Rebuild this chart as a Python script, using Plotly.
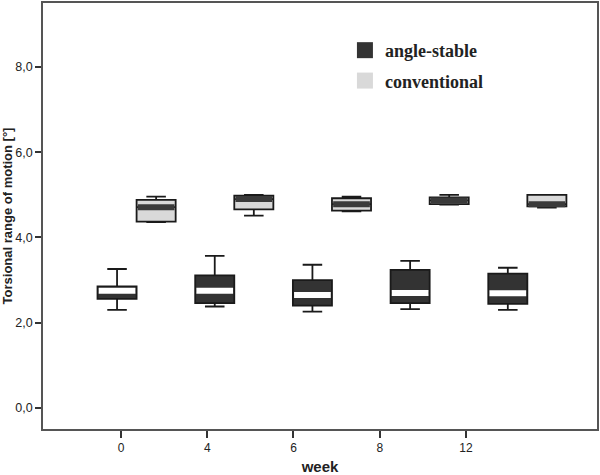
import plotly.graph_objects as go

weeks = ["0", "4", "6", "8", "12"]

# angle-stable
as_low = [2.30, 2.38, 2.26, 2.32, 2.30]
as_q1 = [2.56, 2.46, 2.40, 2.46, 2.44]
as_med = [2.75, 2.75, 2.65, 2.70, 2.69]
as_q3 = [2.85, 3.11, 3.00, 3.24, 3.15]
as_up = [3.26, 3.57, 3.36, 3.45, 3.29]

# conventional
cv_low = [4.36, 4.51, 4.61, 4.77, 4.70]
cv_q1 = [4.37, 4.66, 4.63, 4.78, 4.73]
cv_med = [4.71, 4.90, 4.78, 4.87, 4.78]
cv_q3 = [4.88, 4.98, 4.92, 4.94, 5.00]
cv_up = [4.96, 5.00, 4.96, 5.00, 5.00]

DARK = "#333333"
LIGHT = "#d9d9d9"
LINE = "#1a1a1a"
BW = 0.4  # box width (group units)
OFF = 0.2

idx = list(range(len(weeks)))
fig = go.Figure()

series = [
    ("angle-stable", -OFF, as_low, as_q1, as_med, as_q3, as_up, DARK, "white"),
    ("conventional", OFF, cv_low, cv_q1, cv_med, cv_q3, cv_up, LIGHT, "#3a3a3a"),
]

for name, off, lo, q1, med, q3, up, fill, medc in series:
    xs = [i + off for i in idx]
    fig.add_trace(go.Box(
        x=xs, lowerfence=lo, q1=q1, median=med, q3=q3, upperfence=up,
        width=BW, whiskerwidth=0.5, fillcolor=fill,
        line=dict(color=LINE, width=1.8), showlegend=False,
        xaxis="x2", yaxis="y", hoverinfo="skip",
    ))
    # thick median band
    mx, my = [], []
    for x, m in zip(xs, med):
        mx += [x - BW / 2 + 0.012, x + BW / 2 - 0.012, None]
        my += [m, m, None]
    fig.add_trace(go.Scatter(
        x=mx, y=my, mode="lines", line=dict(color=medc, width=6),
        showlegend=False, xaxis="x2", yaxis="y", hoverinfo="skip",
    ))

# legend entries (attached to the primary x axis so it is drawn)
for name, fill in [("angle-stable", DARK), ("conventional", LIGHT)]:
    fig.add_trace(go.Scatter(
        x=[None], y=[None], mode="markers", name=name, legendgroup=name,
        marker=dict(symbol="square", size=18, color=fill, line=dict(width=0)),
        xaxis="x", yaxis="y",
    ))

fig.update_layout(
    width=600, height=475,
    margin=dict(l=43, r=3, t=3, b=46),
    paper_bgcolor="white", plot_bgcolor="white",
    separators=",.",
    boxmode="overlay",
    showlegend=True,
    legend=dict(
        x=0.545, y=0.932, xanchor="left", yanchor="top",
        font=dict(family="Liberation Serif", size=18, color="#222222", weight="bold"),
        bgcolor="rgba(0,0,0,0)", tracegroupgap=4, itemwidth=30,
    ),
    xaxis=dict(
        range=[-0.904, 5.519], tickvals=idx, ticktext=weeks,
        showgrid=False, zeroline=False, automargin=False,
        showline=True, linecolor="#555555", linewidth=1.5, mirror=True,
        ticks="outside", ticklen=7, tickwidth=1.5, tickcolor="#333333",
        tickfont=dict(family="Liberation Sans", size=12, color="#222222"),
        title=dict(text="week", standoff=9,
                   font=dict(family="Liberation Sans", size=15, color="#222222", weight="bold")),
    ),
    xaxis2=dict(
        range=[-0.958, 4.713], overlaying="x", visible=False,
    ),
    yaxis=dict(
        range=[-0.493, 9.50], tickvals=[0, 2, 4, 6, 8], tickformat=".1f",
        showgrid=False, zeroline=False, automargin=False,
        showline=True, linecolor="#555555", linewidth=1.5, mirror=True,
        ticks="outside", ticklen=6, tickwidth=1.5, tickcolor="#333333",
        tickfont=dict(family="Liberation Sans", size=12.5, color="#222222"),
        title=dict(text="Torsional range of motion [°]", standoff=6,
                   font=dict(family="Liberation Sans", size=13, color="#222222", weight="bold")),
    ),
)

fig.write_html("out.html", config={"displayModeBar": False},
               post_script="document.body.style.margin='0';")
